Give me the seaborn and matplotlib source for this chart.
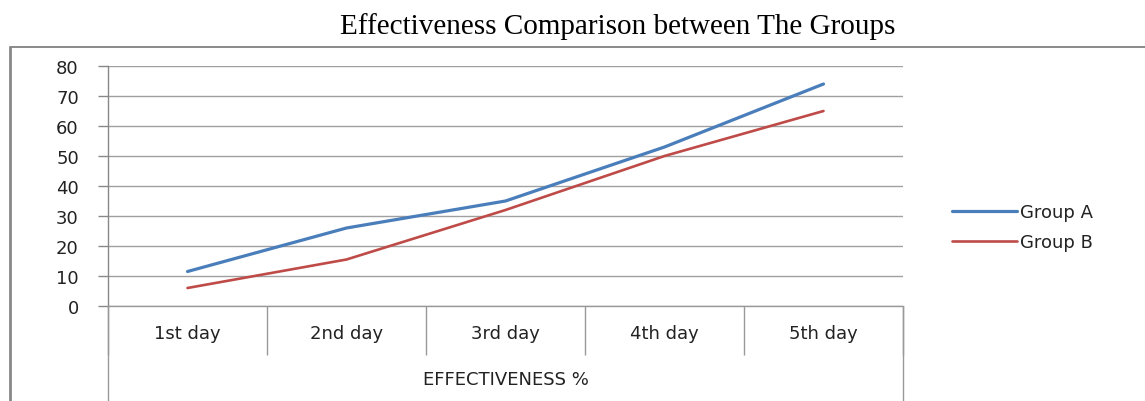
import matplotlib
matplotlib.use("Agg")
import matplotlib.pyplot as plt
from matplotlib.lines import Line2D
import seaborn as sns
import pandas as pd

days = ["1st day", "2nd day", "3rd day", "4th day", "5th day"]
group_a = [11.5, 26, 35, 53, 74]
group_b = [6, 15.5, 32, 50, 65]
y_ticks = [0, 10, 20, 30, 40, 50, 60, 70, 80]
title = "Effectiveness Comparison between The Groups"
x_title = "EFFECTIVENESS %"

sns.set_theme(style="white")
plt.rcParams["font.family"] = ["DejaVu Sans"]

W, H = 1145, 402
fig = plt.figure(figsize=(W / 100, H / 100), dpi=100)
left, right, top, bottom = 108, 903, 67, 307
ax = fig.add_axes([left / W, 1 - bottom / H, (right - left) / W, (bottom - top) / H])

pos = list(range(len(days)))
df_a = pd.DataFrame({"x": pos, "y": group_a})
df_b = pd.DataFrame({"x": pos, "y": group_b})
sns.lineplot(data=df_a, x="x", y="y", ax=ax, color="#4A7EBB", linewidth=2.3, label="Group A")
sns.lineplot(data=df_b, x="x", y="y", ax=ax, color="#BE4B48", linewidth=1.9, label="Group B")

ax.set_xlim(-0.5, len(days) - 0.5)
ax.set_ylim(0, 80)
ax.set_yticks(y_ticks)
ax.set_yticklabels([str(v) for v in y_ticks], fontsize=13, color="#222222")
ax.yaxis.grid(True, color="#a0a0a0", linewidth=1)
ax.set_axisbelow(True)
ax.tick_params(axis="y", length=7, width=1, color="#888888", pad=14, direction="out", left=True)

ax.set_xticks(pos)
ax.set_xticklabels(days, fontsize=13, color="#222222")
ax.tick_params(axis="x", length=0, pad=13)
bounds = [p - 0.5 for p in pos] + [len(days) - 0.5]
ax.set_xticks(bounds, minor=True)
ax.tick_params(axis="x", which="minor", length=35, width=1, color="#999999", direction="out", bottom=True)
ax.vlines([bounds[0], bounds[-1]], 0, -(H - bottom) / (bottom - top), transform=ax.get_xaxis_transform(),
          color="#999999", linewidth=1, clip_on=False)

ax.set_xlabel("")
ax.set_ylabel("")
ax.text(0.5, -(380 - bottom) / (bottom - top), x_title, transform=ax.transAxes,
        ha="center", va="center", fontsize=13, color="#222222")

for s in ["top", "right"]:
    ax.spines[s].set_visible(False)
ax.spines["left"].set_color("#888888")
ax.spines["bottom"].set_color("#999999")
ax.spines["left"].set_linewidth(1)
ax.spines["bottom"].set_linewidth(1)

leg = ax.legend(loc="center left", bbox_to_anchor=(952 / W, 1 - 228 / H), bbox_transform=fig.transFigure,
                frameon=False, fontsize=13, handlelength=3.6, handletextpad=0.15, labelspacing=0.65,
                borderpad=0, borderaxespad=0)
for t in leg.get_texts():
    t.set_color("#222222")

fig.add_artist(Line2D([10 / W, 1], [1 - 48 / H, 1 - 48 / H], transform=fig.transFigure, color="#777777", linewidth=1.2))
fig.add_artist(Line2D([10 / W, 10 / W], [0, 1 - 48 / H], transform=fig.transFigure, color="#888888", linewidth=2))

fig.text(618 / W, 1 - 27 / H, title, ha="center", va="center", fontsize=21,
         family=["Liberation Serif", "DejaVu Serif"], color="black")

fig.savefig("out.png", dpi=100)
